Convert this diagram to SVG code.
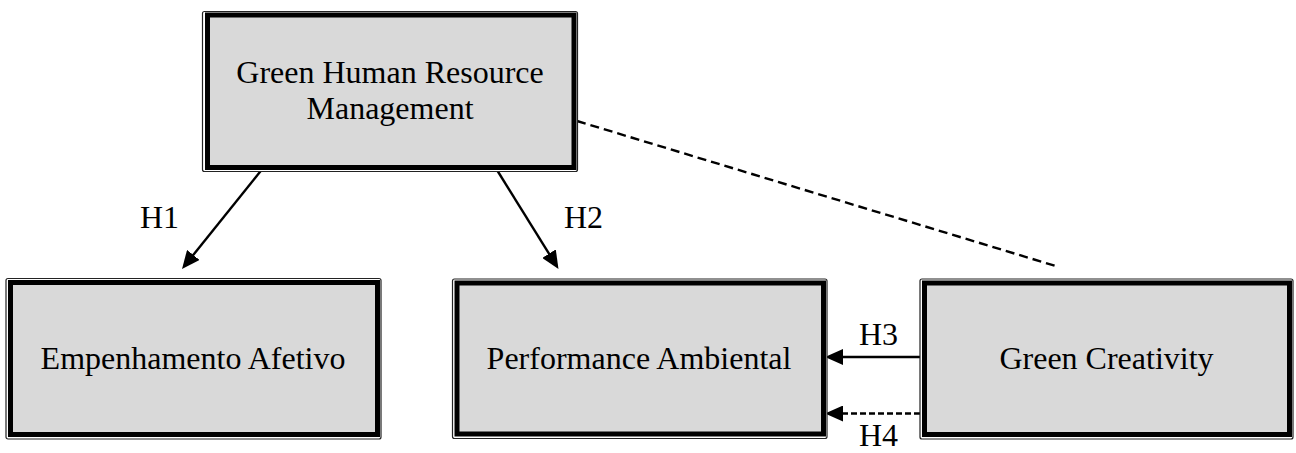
<svg xmlns="http://www.w3.org/2000/svg" width="1296" height="453" viewBox="0 0 1296 453">
<style>
.outer{fill:#fff;stroke:#222;stroke-width:1.2}
.inner{fill:#d9d9d9;stroke:#000;stroke-width:5}
.lbl{font-family:"Liberation Serif","Times New Roman",serif;font-size:32px;fill:#000}
.c{text-anchor:middle}
.ln{stroke:#000;stroke-width:2.4;fill:none}
</style>
<defs>
<marker id="ah" markerUnits="userSpaceOnUse" markerWidth="19" markerHeight="16" refX="11" refY="8" orient="auto">
<path d="M0,0 L18,8 L0,16 z" fill="#000"/>
</marker>
</defs>
<g id="connectors">
<line class="ln" x1="261.5" y1="170" x2="186.4" y2="263.5" marker-end="url(#ah)"/>
<line class="ln" x1="497" y1="170" x2="554.8" y2="263" marker-end="url(#ah)"/>
<line class="ln" x1="577" y1="121" x2="1059" y2="267" stroke-width="1.6" stroke-dasharray="9 5"/>
<line class="ln" x1="920" y1="357" x2="832" y2="357" marker-end="url(#ah)"/>
<line class="ln" x1="920" y1="413.5" x2="832" y2="413.5" stroke-width="1.6" stroke-dasharray="6 3" marker-end="url(#ah)"/>
</g>
<g id="gHRM">
<rect class="outer" x="202.5" y="11.5" width="375" height="160" rx="2"/>
<rect class="inner" x="207.5" y="15" width="366.5" height="152.5"/>
<text class="lbl c" x="390" y="83">Green Human Resource</text>
<text class="lbl c" x="390" y="119">Management</text>
</g>
<g id="empenhamento">
<rect class="outer" x="6" y="278.5" width="375" height="160.5" rx="2"/>
<rect class="inner" x="10.5" y="282.5" width="367" height="152"/>
<text class="lbl c" x="193" y="369">Empenhamento Afetivo</text>
</g>
<g id="performance">
<rect class="outer" x="452.5" y="279" width="374.5" height="159.5" rx="2"/>
<rect class="inner" x="457" y="283" width="366.5" height="151"/>
<text class="lbl c" x="639" y="369">Performance Ambiental</text>
</g>
<g id="creativity">
<rect class="outer" x="920" y="279" width="373" height="160" rx="2"/>
<rect class="inner" x="924.5" y="283" width="365" height="151.5"/>
<text class="lbl c" x="1106.5" y="369">Green Creativity</text>
</g>
<g id="labels">
<text class="lbl" x="140" y="228">H1</text>
<text class="lbl" x="564" y="228">H2</text>
<text class="lbl" x="859" y="345">H3</text>
<text class="lbl" x="859" y="446">H4</text>
</g>
</svg>
